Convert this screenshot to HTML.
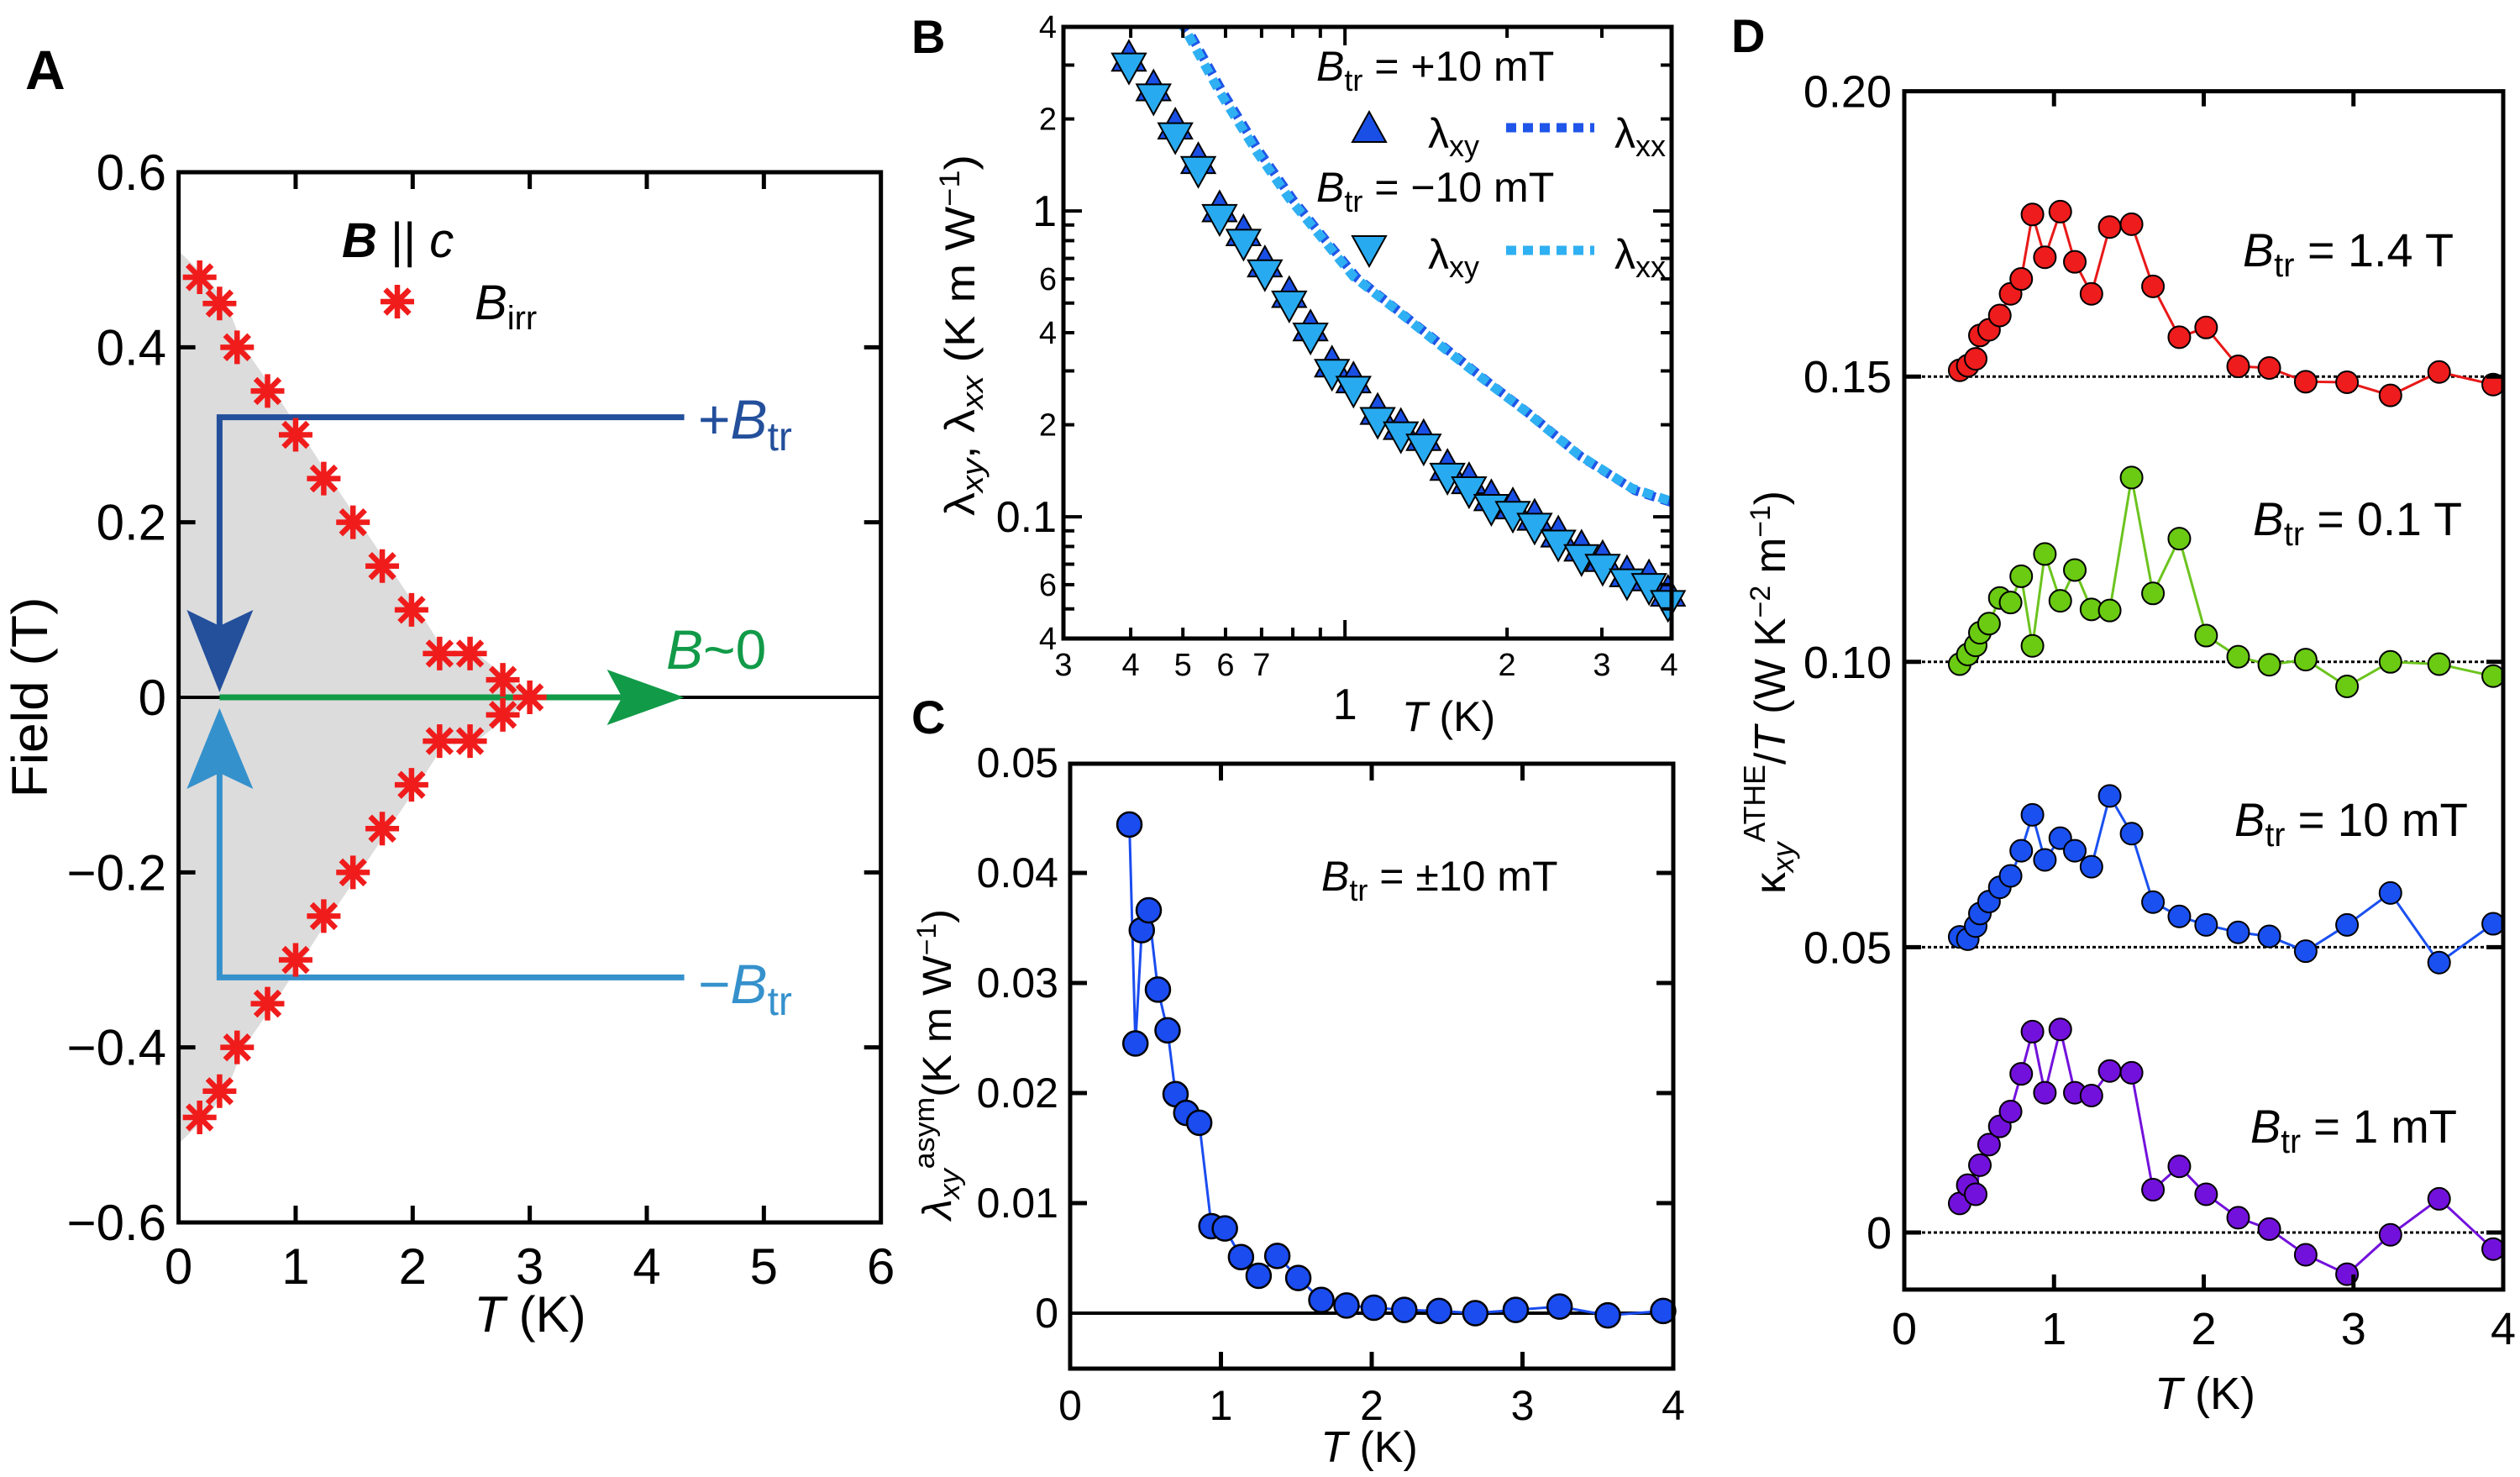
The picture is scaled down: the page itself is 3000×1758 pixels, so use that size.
<!DOCTYPE html>
<html>
<head>
<meta charset="utf-8">
<style>
html,body{margin:0;padding:0;background:#fff;}
svg{display:block;font-family:"Liberation Sans",Arial,sans-serif;}
</style>
</head>
<body>
<svg id="fig" width="3000" height="1758" viewBox="0 0 3000 1758" xmlns="http://www.w3.org/2000/svg">
<defs>
  <clipPath id="clipB"><rect x="1266" y="32" width="724" height="728"/></clipPath>
</defs>
<g id="layerA"></g>
<g id="layerB"></g>
<g id="layerC"></g>
<g id="layerD"></g>

<text x="30" y="106" font-size="66" font-weight="bold">A</text>
<text x="1085" y="63" font-size="56" font-weight="bold">B</text>
<text x="1085" y="873" font-size="56" font-weight="bold">C</text>
<text x="2061" y="62" font-size="56" font-weight="bold">D</text>

<text x="56" y="830" font-size="60" text-anchor="middle" transform="rotate(-90 56 830)" textLength="239" lengthAdjust="spacingAndGlyphs">Field (T)</text>
<text x="631" y="1585" font-size="60" text-anchor="middle"><tspan font-style="italic">T</tspan> (K)</text>
<text x="407" y="306" font-size="58"><tspan font-weight="bold" font-style="italic">B</tspan> || <tspan font-style="italic">c</tspan></text>
<text x="565" y="380" font-size="58"><tspan font-style="italic">B</tspan><tspan font-size="40" dy="12">irr</tspan></text>
<text x="831" y="522" font-size="66" fill="#234f9b">+<tspan font-style="italic">B</tspan><tspan font-size="48" dy="14">tr</tspan></text>
<text x="793" y="796" font-size="66" fill="#119a48"><tspan font-style="italic">B</tspan>~0</text>
<text x="831" y="1194" font-size="66" fill="#3591cc">−<tspan font-style="italic">B</tspan><tspan font-size="48" dy="14">tr</tspan></text>

<text x="1160" y="399" font-size="50" text-anchor="middle" transform="rotate(-90 1160 399)" textLength="430" lengthAdjust="spacingAndGlyphs">λ<tspan font-size="36" dy="10" font-style="italic">xy</tspan><tspan dy="-10">, λ</tspan><tspan font-size="36" dy="10" font-style="italic">xx</tspan><tspan dy="-10"> (K m W</tspan><tspan font-size="34" dy="-18">−1</tspan><tspan dy="18">)</tspan></text>
<text x="1669" y="870" font-size="50"><tspan font-style="italic">T</tspan> (K)</text>
<text x="1567" y="96" font-size="50"><tspan font-style="italic">B</tspan><tspan font-size="36" dy="12">tr</tspan><tspan dy="-12"> = +10 mT</tspan></text>
<text x="1700" y="176" font-size="50">λ<tspan font-size="36" dy="10">xy</tspan></text>
<text x="1922" y="176" font-size="50">λ<tspan font-size="36" dy="10">xx</tspan></text>
<text x="1567" y="240" font-size="50"><tspan font-style="italic">B</tspan><tspan font-size="36" dy="12">tr</tspan><tspan dy="-12"> = −10 mT</tspan></text>
<text x="1700" y="320" font-size="50">λ<tspan font-size="36" dy="10">xy</tspan></text>
<text x="1922" y="320" font-size="50">λ<tspan font-size="36" dy="10">xx</tspan></text>

<text x="1132" y="1267" font-size="48" text-anchor="middle" transform="rotate(-90 1132 1267)" textLength="370" lengthAdjust="spacingAndGlyphs"><tspan font-style="italic">λ</tspan><tspan font-size="34" dy="10" font-style="italic">xy</tspan><tspan font-size="34" dy="-30">asym</tspan><tspan dy="20">(K m W</tspan><tspan font-size="32" dy="-18">−1</tspan><tspan dy="18">)</tspan></text>
<text x="1630" y="1740" font-size="52" text-anchor="middle"><tspan font-style="italic">T</tspan> (K)</text>
<text x="1573" y="1060" font-size="50"><tspan font-style="italic">B</tspan><tspan font-size="36" dy="12">tr</tspan><tspan dy="-12"> = ±10 mT</tspan></text>

<text x="2125" y="824" font-size="52" text-anchor="middle" transform="rotate(-90 2125 824)" textLength="480" lengthAdjust="spacingAndGlyphs">κ<tspan font-size="36" dy="10" font-style="italic">xy</tspan><tspan font-size="36" dy="-34">ATHE</tspan><tspan dy="24">/</tspan><tspan font-style="italic">T</tspan> (W K<tspan font-size="34" dy="-18">−2</tspan><tspan dy="18"> m</tspan><tspan font-size="34" dy="-18">−1</tspan><tspan dy="18">)</tspan></text>
<text x="2625" y="1677" font-size="54" text-anchor="middle"><tspan font-style="italic">T</tspan> (K)</text>
<text x="2670" y="317" font-size="56" textLength="251" lengthAdjust="spacingAndGlyphs"><tspan font-style="italic">B</tspan><tspan font-size="40" dy="12">tr</tspan><tspan dy="-12"> = 1.4 T</tspan></text>
<text x="2682" y="637" font-size="56" textLength="249" lengthAdjust="spacingAndGlyphs"><tspan font-style="italic">B</tspan><tspan font-size="40" dy="12">tr</tspan><tspan dy="-12"> = 0.1 T</tspan></text>
<text x="2660" y="995" font-size="56" textLength="278" lengthAdjust="spacingAndGlyphs"><tspan font-style="italic">B</tspan><tspan font-size="40" dy="12">tr</tspan><tspan dy="-12"> = 10 mT</tspan></text>
<text x="2679" y="1360" font-size="56" textLength="246" lengthAdjust="spacingAndGlyphs"><tspan font-style="italic">B</tspan><tspan font-size="40" dy="12">tr</tspan><tspan dy="-12"> = 1 mT</tspan></text>
</svg>

<script>
const aTemps = [0.18,0.35,0.5,0.76,1.0,1.24,1.49,1.74,1.99,2.23,2.49,2.77,3.0,2.77,2.49,2.23,1.99,1.74,1.49,1.24,1.0,0.76,0.5,0.35,0.18];
const aFields = [0.48,0.45,0.40,0.35,0.30,0.25,0.20,0.15,0.10,0.05,0.05,0.02,0.0,-0.02,-0.05,-0.05,-0.10,-0.15,-0.20,-0.25,-0.30,-0.35,-0.40,-0.45,-0.48];
const aXTicks = [0,1,2,3,4,5,6];
const aYTicks = [0.6,0.4,0.2,0,-0.2,-0.4,-0.6];
const aYTickLabels = ["0.6","0.4","0.2","0","−0.2","−0.4","−0.6"];
const aTrField = 0.32;
const aTrTStart = 0.35;
const aTrTEnd = 4.32;

const bTemps = [0.397,0.441,0.484,0.534,0.585,0.648,0.71,0.788,0.863,0.946,1.037,1.15,1.27,1.40,1.55,1.70,1.87,2.05,2.25,2.49,2.75,3.01,3.34,3.67,3.98];
const bLxyPlus = [3.2,2.56,1.92,1.48,1.03,0.86,0.68,0.54,0.42,0.32,0.284,0.224,0.2,0.184,0.147,0.133,0.117,0.11,0.101,0.089,0.08,0.074,0.066,0.064,0.057];
const bLxyMinus = [2.94,2.33,1.74,1.35,0.94,0.78,0.62,0.49,0.385,0.293,0.258,0.204,0.183,0.167,0.134,0.121,0.106,0.1006,0.092,0.081,0.0726,0.0675,0.0605,0.0584,0.0514];
const bXxTemps = [0.45,0.504,0.585,0.686,0.788,0.904,1.037,1.245,1.50,1.84,2.16,2.71,3.41,4.0];
const bLxxPlus = [5.2,4.0,2.5,1.59,1.12,0.83,0.62,0.48,0.37,0.278,0.224,0.161,0.125,0.114];
const bLxxMinus = [5.1,3.95,2.45,1.56,1.10,0.82,0.61,0.475,0.365,0.275,0.222,0.16,0.124,0.113];
const bXLabelVals = [0.3,0.4,0.5,0.6,0.7,1,2,3,4];
const bXLabels = ["3","4","5","6","7","1","2","3","4"];
const bYLabelVals = [4,2,1,0.6,0.4,0.2,0.1,0.06,0.04];
const bYLabels = ["4","2","1","6","4","2","0.1","6","4"];

const cTemps = [0.393,0.433,0.475,0.521,0.582,0.646,0.699,0.77,0.856,0.937,1.026,1.133,1.25,1.374,1.513,1.666,1.833,2.014,2.216,2.447,2.687,2.955,3.246,3.566,3.933];
const cValues = [0.0444,0.0245,0.0348,0.0366,0.0294,0.0257,0.0199,0.0182,0.0173,0.0079,0.0077,0.0051,0.0034,0.0052,0.0032,0.0012,0.0007,0.0005,0.0003,0.0002,0.0,0.0003,0.0006,-0.0002,0.0002];
const cXTicks = [0,1,2,3,4];
const cYTicks = [0,0.01,0.02,0.03,0.04,0.05];
const cYTickLabels = ["0","0.01","0.02","0.03","0.04","0.05"];

const dTemps = [0.37,0.424,0.477,0.505,0.566,0.638,0.71,0.781,0.856,0.939,1.042,1.139,1.25,1.372,1.518,1.661,1.837,2.016,2.23,2.438,2.681,2.957,3.247,3.572,3.933];
const d1p4T = [0.1511,0.1519,0.1531,0.1572,0.1582,0.1607,0.1645,0.1671,0.1784,0.1709,0.1789,0.1701,0.1645,0.1762,0.1767,0.1658,0.1569,0.1586,0.1518,0.1515,0.1491,0.149,0.1467,0.1508,0.1486];
const d0p1T = [0.0996,0.1013,0.1029,0.1051,0.1067,0.1112,0.1104,0.115,0.1028,0.1189,0.1107,0.1161,0.1092,0.109,0.1323,0.112,0.1216,0.1046,0.1009,0.0995,0.1004,0.0957,0.1,0.0996,0.0975];
const d10mT = [0.0518,0.0514,0.0537,0.0559,0.058,0.0605,0.0625,0.0669,0.0732,0.0653,0.0691,0.0669,0.0641,0.0765,0.0699,0.0579,0.0554,0.0539,0.0526,0.0519,0.0493,0.0539,0.0595,0.0473,0.0541];
const d1mT = [0.0051,0.0083,0.0067,0.0118,0.0154,0.0186,0.0212,0.0278,0.0352,0.0245,0.0356,0.0245,0.024,0.0283,0.028,0.0075,0.0116,0.0067,0.0026,0.0006,-0.0039,-0.0073,-0.0004,0.0059,-0.0029];
const dBaselines = [0.15,0.10,0.05,0];
const dXTicks = [0,1,2,3,4];
const dYTicks = [0,0.05,0.10,0.15,0.20];
const dYTickLabels = ["0","0.05","0.10","0.15","0.20"];

const NS = 'http://www.w3.org/2000/svg';
function mk(tag, attrs, parent){
  const e = document.createElementNS(NS, tag);
  for (const k in attrs) e.setAttribute(k, attrs[k]);
  parent.appendChild(e);
  return e;
}
function tick(parent, x1, y1, x2, y2, w, name){
  const e = mk('line', {x1:x1, y1:y1, x2:x2, y2:y2, stroke:'#000', 'stroke-width':w}, parent);
  
  
  return e;
}
function label(parent, x, y, txt, size, anchor, name){
  const e = mk('text', {x:x, y:y, 'font-size':size, 'text-anchor':anchor}, parent);
  e.textContent = txt;
  
  
  return e;
}

// PANEL A
const gA = document.getElementById('layerA');
const ax = t => 212.6 + t * 139.35;
const ay = b => 830 - b * 1041.7;

let pts = [ax(0) + ',' + ay(0.51)];
for (let i = 0; i < aTemps.length; i++) pts.push((ax(aTemps[i]) + 8) + ',' + ay(aFields[i]));
pts.push(ax(0) + ',' + ay(-0.51));
const shade = mk('polygon', {points: pts.join(' '), fill:'#dcdcdc'}, gA);



const zA = mk('line', {x1:ax(0), y1:ay(0), x2:ax(6), y2:ay(0), stroke:'#000', 'stroke-width':4}, gA);



const xs = ax(aTrTStart), xe = ax(aTrTEnd);
const upPath = mk('polyline', {points: `${xe},${ay(aTrField)} ${xs},${ay(aTrField)} ${xs},${ay(0)-85}`, fill:'none', stroke:'#234f9b', 'stroke-width':7}, gA);


const upHead = mk('polygon', {points: `${xs},${ay(0)-6} ${xs-39},${ay(0)-104} ${xs},${ay(0)-85} ${xs+40},${ay(0)-104}`, fill:'#234f9b'}, gA);


const dnPath = mk('polyline', {points: `${xe},${ay(-aTrField)} ${xs},${ay(-aTrField)} ${xs},${ay(0)+90}`, fill:'none', stroke:'#3591cc', 'stroke-width':7}, gA);


const dnHead = mk('polygon', {points: `${xs},${ay(0)+13} ${xs-39},${ay(0)+109} ${xs},${ay(0)+90} ${xs+40},${ay(0)+109}`, fill:'#3591cc'}, gA);


const gLine = mk('line', {x1:xs, y1:ay(0), x2:xe-70, y2:ay(0), stroke:'#119a48', 'stroke-width':7}, gA);


const gHead = mk('polygon', {points: `${xe},${ay(0)} ${xe-92},${ay(0)-33} ${xe-74},${ay(0)} ${xe-92},${ay(0)+33}`, fill:'#119a48'}, gA);



function star(parent, cx, cy, s){
  const d = `M${cx-s},${cy}L${cx+s},${cy}M${cx},${cy-s}L${cx},${cy+s}M${cx-s*0.72},${cy-s*0.72}L${cx+s*0.72},${cy+s*0.72}M${cx-s*0.72},${cy+s*0.72}L${cx+s*0.72},${cy-s*0.72}`;
  return mk('path', {d:d, stroke:'#f01c1c', 'stroke-width':6.5, fill:'none'}, parent);
}
for (let i = 0; i < aTemps.length; i++){
  const s = star(gA, ax(aTemps[i]), ay(aFields[i]), 20);
  
  
}
const legStar = star(gA, 473, 359, 20);



const frA = mk('rect', {x:ax(0), y:ay(0.6), width:ax(6)-ax(0), height:ay(-0.6)-ay(0.6), fill:'none', stroke:'#000', 'stroke-width':5}, gA);


aXTicks.forEach(t => {
  if (t > 0 && t < 6){
    tick(gA, ax(t), ay(-0.6), ax(t), ay(-0.6)-20, 5, 'a-x-tick');
    tick(gA, ax(t), ay(0.6), ax(t), ay(0.6)+20, 5, 'a-x-tick-top');
  }
  label(gA, ax(t), 1528, String(t), 60, 'middle', 'a-x-tick-label');
});
aYTicks.forEach((v, i) => {
  if (Math.abs(v) < 0.59 && v !== 0){
    tick(gA, ax(0), ay(v), ax(0)+20, ay(v), 5, 'a-y-tick');
    tick(gA, ax(6), ay(v), ax(6)-20, ay(v), 5, 'a-y-tick-right');
  }
  label(gA, 198, ay(v)+21, aYTickLabels[i], 60, 'end', 'a-y-tick-label');
});

// PANEL B
const gB = document.getElementById('layerB');
const bx = t => 1266 + 641 * Math.log10(t / 0.3);
const by = v => 32 + 364 * Math.log10(4 / v);

function curve(parent, xsArr, ysArr, color, dx, dy){
  let d = '';
  for (let i = 0; i < xsArr.length; i++){
    d += (i ? 'L' : 'M') + (bx(xsArr[i])+dx).toFixed(1) + ',' + (by(ysArr[i])+dy).toFixed(1);
  }
  return mk('path', {d:d, fill:'none', stroke:color, 'stroke-width':11, 'stroke-dasharray':'12 8', 'stroke-linejoin':'round', 'clip-path':'url(#clipB)'}, parent);
}
const cPlus = curve(gB, bXxTemps, bLxxPlus, '#1f55e8', 4, 4);


const cMinus = curve(gB, bXxTemps, bLxxMinus, '#2fb0f2', 0, 0);



function tri(parent, cx, cy, up, fill){
  const w = 20, h = 34;
  const p = up ? `${cx},${cy-h/2-2} ${cx-w},${cy+h/2} ${cx+w},${cy+h/2}` : `${cx-w},${cy-h/2} ${cx+w},${cy-h/2} ${cx},${cy+h/2+2}`;
  return mk('polygon', {points:p, fill:fill, stroke:'#000', 'stroke-width':2}, parent);
}
for (let i = 0; i < bTemps.length; i++){
  const t = tri(gB, bx(bTemps[i]), by(bLxyPlus[i]), true, '#1a4fe6');
  
  
}
for (let i = 0; i < bTemps.length; i++){
  const t = tri(gB, bx(bTemps[i]), by(bLxyMinus[i]), false, '#28aaf0');
  
  
}
const lgUp = tri(gB, 1630, 152, true, '#1a4fe6');


const lgDn = tri(gB, 1630, 298, false, '#28aaf0');


const lgL1 = mk('line', {x1:1793, y1:152, x2:1898, y2:152, stroke:'#1f55e8', 'stroke-width':11, 'stroke-dasharray':'12 8'}, gB);


const lgL2 = mk('line', {x1:1793, y1:298, x2:1898, y2:298, stroke:'#2fb0f2', 'stroke-width':11, 'stroke-dasharray':'12 8'}, gB);



const frB = mk('rect', {x:1266, y:32, width:724, height:728, fill:'none', stroke:'#000', 'stroke-width':5}, gB);


[0.4,0.5,0.6,0.7,0.8,0.9,1,2,3].forEach(t => {
  const L = (t === 1) ? 22 : 13;
  tick(gB, bx(t), 760, bx(t), 760-L, 4, 'b-x-tick');
  tick(gB, bx(t), 32, bx(t), 32+L, 4, 'b-x-tick-top');
});
[0.05,0.06,0.07,0.08,0.09,0.1,0.2,0.3,0.4,0.5,0.6,0.7,0.8,0.9,1,2,3].forEach(v => {
  const L = (v === 1 || v === 0.1) ? 22 : 13;
  tick(gB, 1266, by(v), 1266+L, by(v), 4, 'b-y-tick');
  tick(gB, 1990, by(v), 1990-L, by(v), 4, 'b-y-tick-right');
});
bXLabelVals.forEach((t, i) => {
  const big = (t === 1);
  label(gB, bx(t), big ? 856 : 804, bXLabels[i], big ? 52 : 38, 'middle', 'b-x-tick-label');
});
bYLabelVals.forEach((v, i) => {
  const big = (v === 1 || v === 0.1);
  label(gB, 1258, by(v) + (big ? 18 : 13), bYLabels[i], big ? 52 : 38, 'end', 'b-y-tick-label');
});

// PANEL C
const gC = document.getElementById('layerC');
const cx = t => 1274 + t * 179.5;
const cy = v => 1563 - v * 13100;
const zC = mk('line', {x1:cx(0), y1:cy(0), x2:cx(4), y2:cy(0), stroke:'#000', 'stroke-width':4}, gC);


const cLine = mk('polyline', {points: cTemps.map((t,i) => cx(t)+','+cy(cValues[i])).join(' '), fill:'none', stroke:'#1a4cf0', 'stroke-width':3}, gC);


for (let i = 0; i < cTemps.length; i++){
  const c = mk('circle', {cx:cx(cTemps[i]), cy:cy(cValues[i]), r:14.5, fill:'#1a4cf0', stroke:'#000', 'stroke-width':2.5}, gC);
  
  
}
const frC = mk('rect', {x:1274, y:909, width:718, height:720, fill:'none', stroke:'#000', 'stroke-width':5}, gC);


cXTicks.forEach(t => {
  if (t > 0 && t < 4){
    tick(gC, cx(t), 1629, cx(t), 1609, 5, 'c-x-tick');
    tick(gC, cx(t), 909, cx(t), 929, 5, 'c-x-tick-top');
  }
  label(gC, cx(t), 1690, String(t), 50, 'middle', 'c-x-tick-label');
});
cYTicks.forEach((v, i) => {
  if (v > 0 && v < 0.05){
    tick(gC, 1274, cy(v), 1294, cy(v), 5, 'c-y-tick');
    tick(gC, 1992, cy(v), 1972, cy(v), 5, 'c-y-tick-right');
  }
  label(gC, 1260, cy(v)+17, cYTickLabels[i], 50, 'end', 'c-y-tick-label');
});

// PANEL D
const gD = document.getElementById('layerD');
const dx = t => 2267 + t * 178.25;
const dy = v => 1467 - v * 6792;
dBaselines.forEach(v => {
  const l = mk('line', {x1:dx(0), y1:dy(v), x2:dx(4), y2:dy(v), stroke:'#000', 'stroke-width':3, 'stroke-dasharray':'4 3'}, gD);
  
  
});
const dSeries = [
  {vals:d1p4T, color:'#ee1c1c', line:'#e81818', name:'kxy-1p4t'},
  {vals:d0p1T, color:'#6acb12', line:'#6cc41e', name:'kxy-0p1t'},
  {vals:d10mT, color:'#1a50f0', line:'#1a50f0', name:'kxy-10mt'},
  {vals:d1mT, color:'#7311dc', line:'#7311dc', name:'kxy-1mt'}
];
dSeries.forEach(s => {
  const pl = mk('polyline', {points: dTemps.map((t,i) => dx(t)+','+dy(s.vals[i])).join(' '), fill:'none', stroke:s.line, 'stroke-width':3}, gD);
  
  
  for (let i = 0; i < dTemps.length; i++){
    const c = mk('circle', {cx:dx(dTemps[i]), cy:dy(s.vals[i]), r:13, fill:s.color, stroke:'#000', 'stroke-width':2}, gD);
    
    
  }
});
const frD = mk('rect', {x:2267, y:dy(0.2), width:713, height:dy(-0.01)-dy(0.2), fill:'none', stroke:'#000', 'stroke-width':5}, gD);


dXTicks.forEach(t => {
  if (t > 0 && t < 4){
    tick(gD, dx(t), dy(-0.01), dx(t), dy(-0.01)-18, 5, 'd-x-tick');
    tick(gD, dx(t), dy(0.2), dx(t), dy(0.2)+18, 5, 'd-x-tick-top');
  }
  label(gD, dx(t), 1600, String(t), 54, 'middle', 'd-x-tick-label');
});
dYTicks.forEach((v, i) => {
  if (v < 0.2){
    tick(gD, 2267, dy(v), 2287, dy(v), 5, 'd-y-tick');
    tick(gD, 2980, dy(v), 2960, dy(v), 5, 'd-y-tick-right');
  }
  label(gD, 2252, dy(v)+19, dYTickLabels[i], 54, 'end', 'd-y-tick-label');
});
</script>
</body>
</html>
